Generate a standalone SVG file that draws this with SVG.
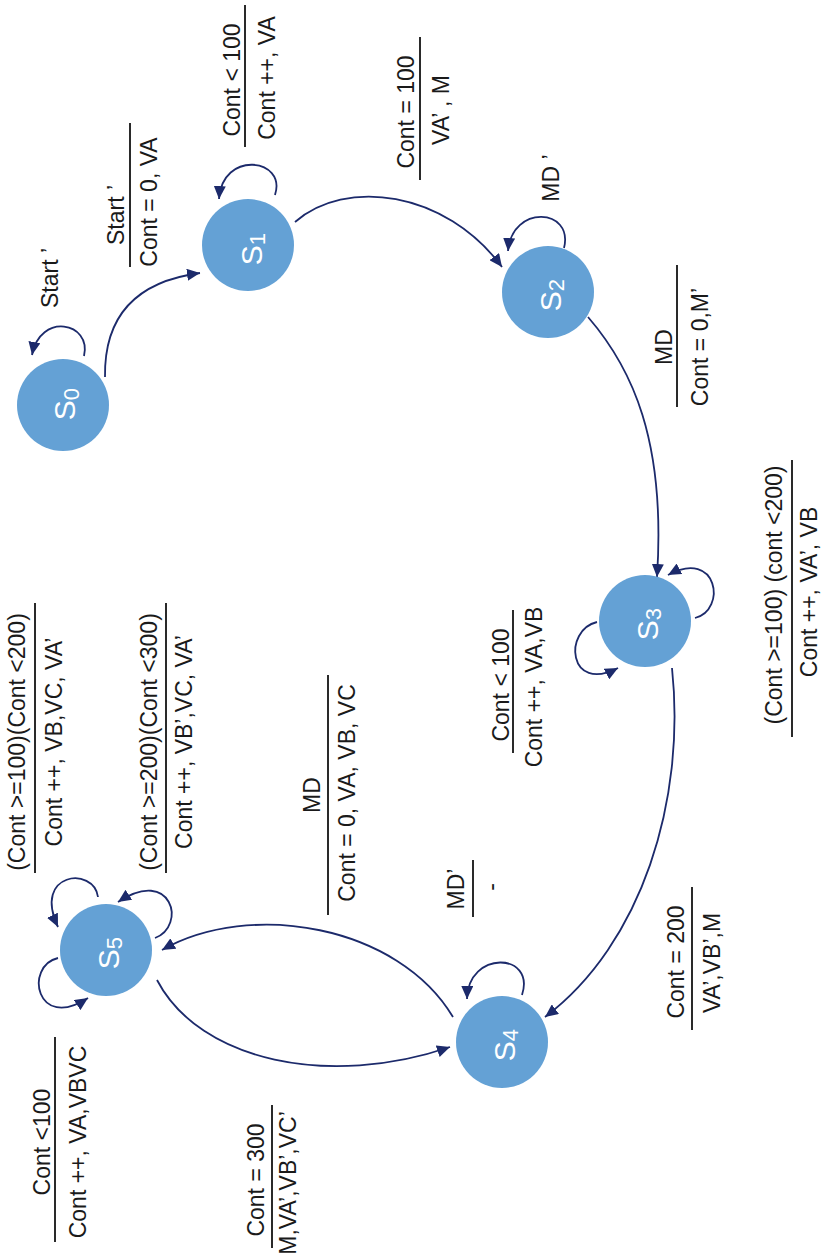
<svg xmlns="http://www.w3.org/2000/svg" width="823" height="1257" viewBox="0 0 823 1257">
  <style>
    .node { fill: #64A1D5; }
    .nlabel { font-family: "Liberation Sans", Arial, sans-serif; font-size: 30px; fill: #ffffff; text-anchor: middle; }
    .nlabel tspan.sub { font-size: 22px; }
    .edge { fill: none; stroke: #1C2A6B; stroke-width: 1.8; marker-end: url(#arrow); }
    .lbl { font-family: "Liberation Sans", Arial, sans-serif; font-size: 23px; fill: #1a1a1a; text-anchor: middle; }
    .bar { stroke: #2a2a2a; stroke-width: 2; }
  </style>
  <defs>
    <marker id="arrow" markerUnits="userSpaceOnUse" markerWidth="14" markerHeight="12" refX="13" refY="6" orient="auto">
      <path d="M0,0 L13,6 L0,12 z" fill="#1C2A6B"/>
    </marker>
  </defs>

  <rect width="823" height="1257" fill="#ffffff"/>

  <!-- transitions -->
  <g id="connectors">
    <path class="edge" d="M105,377 C104,312 140,281 200,273"/>
    <path class="edge" d="M84,356 C92,322 40,312 32,355"/>
    <path class="edge" d="M275,195 C287,158 222,150 219,199"/>
    <path class="edge" d="M295,222 C345,178 445,190 502,267"/>
    <path class="edge" d="M564,248 C574,208 512,204 508,251"/>
    <path class="edge" d="M588,317 C632,368 666,440 657,577"/>
    <path class="edge" d="M695,618 C727,610 718,548 668,575"/>
    <path class="edge" d="M597,622 C563,630 568,694 618,668"/>
    <path class="edge" d="M672,668 C686,800 642,944 545,1017"/>
    <path class="edge" d="M522,995 C536,952 468,950 467,999"/>
    <path class="edge" d="M453,1017 C398,925 250,900 162,950"/>
    <path class="edge" d="M157,980 C200,1062 330,1088 450,1047"/>
    <path class="edge" d="M98,897 C94,866 32,872 58,927"/>
    <path class="edge" d="M155,938 C187,926 172,866 118,902"/>
    <path class="edge" d="M58,958 C24,966 36,1032 88,998"/>
  </g>

  <!-- states -->
  <g id="S0">
    <circle class="node" cx="63" cy="405" r="46"/>
    <text class="nlabel" transform="translate(75,404) rotate(-90)">S<tspan class="sub" dy="4">0</tspan></text>
  </g>
  <g id="S1">
    <circle class="node" cx="248" cy="245" r="46"/>
    <text class="nlabel" transform="translate(262,249) rotate(-90)">S<tspan class="sub" dy="3">1</tspan></text>
  </g>
  <g id="S2">
    <circle class="node" cx="548" cy="292" r="46"/>
    <text class="nlabel" transform="translate(561,295) rotate(-90)">S<tspan class="sub" dy="3">2</tspan></text>
  </g>
  <g id="S3">
    <circle class="node" cx="645" cy="621" r="46"/>
    <text class="nlabel" transform="translate(658,624) rotate(-90)">S<tspan class="sub" dy="3">3</tspan></text>
  </g>
  <g id="S4">
    <circle class="node" cx="502" cy="1042" r="46"/>
    <text class="nlabel" transform="translate(515,1045) rotate(-90)">S<tspan class="sub" dy="3">4</tspan></text>
  </g>
  <g id="S5">
    <circle class="node" cx="106" cy="950" r="46"/>
    <text class="nlabel" transform="translate(119,953) rotate(-90)">S<tspan class="sub" dy="3">5</tspan></text>
  </g>

  <!-- transition labels -->
  <g id="label-s0-loop">
    <text class="lbl" transform="translate(58,278) rotate(-90)">Start ’</text>
  </g>
  <g id="label-s0-s1">
    <line class="bar" x1="130" y1="123" x2="130" y2="267"/>
    <text class="lbl" transform="translate(124,215) rotate(-90)">Start ’</text>
    <text class="lbl" transform="translate(157,202) rotate(-90)">Cont = 0, VA</text>
  </g>
  <g id="label-s1-loop">
    <line class="bar" x1="245" y1="5" x2="245" y2="147"/>
    <text class="lbl" transform="translate(240,80) rotate(-90)">Cont &lt; 100</text>
    <text class="lbl" transform="translate(275,78) rotate(-90)">Cont ++, VA</text>
  </g>
  <g id="label-s1-s2">
    <line class="bar" x1="420" y1="37" x2="420" y2="180"/>
    <text class="lbl" transform="translate(414,112) rotate(-90)">Cont = 100</text>
    <text class="lbl" transform="translate(449,110) rotate(-90)">VA’ , M</text>
  </g>
  <g id="label-s2-loop">
    <text class="lbl" transform="translate(559,178) rotate(-90)">MD ’</text>
  </g>
  <g id="label-s2-s3">
    <line class="bar" x1="677" y1="265" x2="677" y2="407"/>
    <text class="lbl" transform="translate(672,347) rotate(-90)">MD</text>
    <text class="lbl" transform="translate(708,347) rotate(-90)">Cont = 0,M’</text>
  </g>
  <g id="label-s3-loop-right">
    <line class="bar" x1="792" y1="460" x2="792" y2="737"/>
    <text class="lbl" transform="translate(782,595) rotate(-90)">(Cont &gt;=100) (cont &lt;200)</text>
    <text class="lbl" transform="translate(817,592) rotate(-90)">Cont ++,  VA’, VB</text>
  </g>
  <g id="label-s3-loop-left">
    <line class="bar" x1="513" y1="610" x2="513" y2="753"/>
    <text class="lbl" transform="translate(509,685) rotate(-90)">Cont &lt; 100</text>
    <text class="lbl" transform="translate(542,687) rotate(-90)">Cont ++, VA,VB</text>
  </g>
  <g id="label-s3-s4">
    <line class="bar" x1="692" y1="887" x2="692" y2="1030"/>
    <text class="lbl" transform="translate(684,962) rotate(-90)">Cont = 200</text>
    <text class="lbl" transform="translate(720,963) rotate(-90)">VA’,VB’,M</text>
  </g>
  <g id="label-s4-loop">
    <line class="bar" x1="473" y1="860" x2="473" y2="917"/>
    <text class="lbl" transform="translate(464,889) rotate(-90)">MD’</text>
    <text class="lbl" transform="translate(499,887) rotate(-90)">-</text>
  </g>
  <g id="label-s4-s5">
    <line class="bar" x1="328" y1="675" x2="328" y2="915"/>
    <text class="lbl" transform="translate(320,795) rotate(-90)">MD</text>
    <text class="lbl" transform="translate(355,793) rotate(-90)">Cont = 0, VA, VB, VC</text>
  </g>
  <g id="label-s5-loop-a">
    <line class="bar" x1="35" y1="603" x2="35" y2="873"/>
    <text class="lbl" transform="translate(25,742) rotate(-90)">(Cont &gt;=100)(Cont &lt;200)</text>
    <text class="lbl" transform="translate(62,742) rotate(-90)">Cont ++,  VB,VC,  VA’</text>
  </g>
  <g id="label-s5-loop-b">
    <line class="bar" x1="166" y1="603" x2="166" y2="873"/>
    <text class="lbl" transform="translate(157,742) rotate(-90)">(Cont &gt;=200)(Cont &lt;300)</text>
    <text class="lbl" transform="translate(192,742) rotate(-90)">Cont ++,  VB’,VC,  VA’</text>
  </g>
  <g id="label-s5-loop-c">
    <line class="bar" x1="55" y1="1037" x2="55" y2="1242"/>
    <text class="lbl" transform="translate(50,1142) rotate(-90)">Cont &lt;100</text>
    <text class="lbl" transform="translate(86,1142) rotate(-90)">Cont ++, VA,VBVC</text>
  </g>
  <g id="label-s5-s4">
    <line class="bar" x1="272" y1="1105" x2="272" y2="1248"/>
    <text class="lbl" transform="translate(264,1180) rotate(-90)">Cont = 300</text>
    <text class="lbl" transform="translate(296,1183) rotate(-90)">M,VA’,VB’,VC’</text>
  </g>
</svg>
